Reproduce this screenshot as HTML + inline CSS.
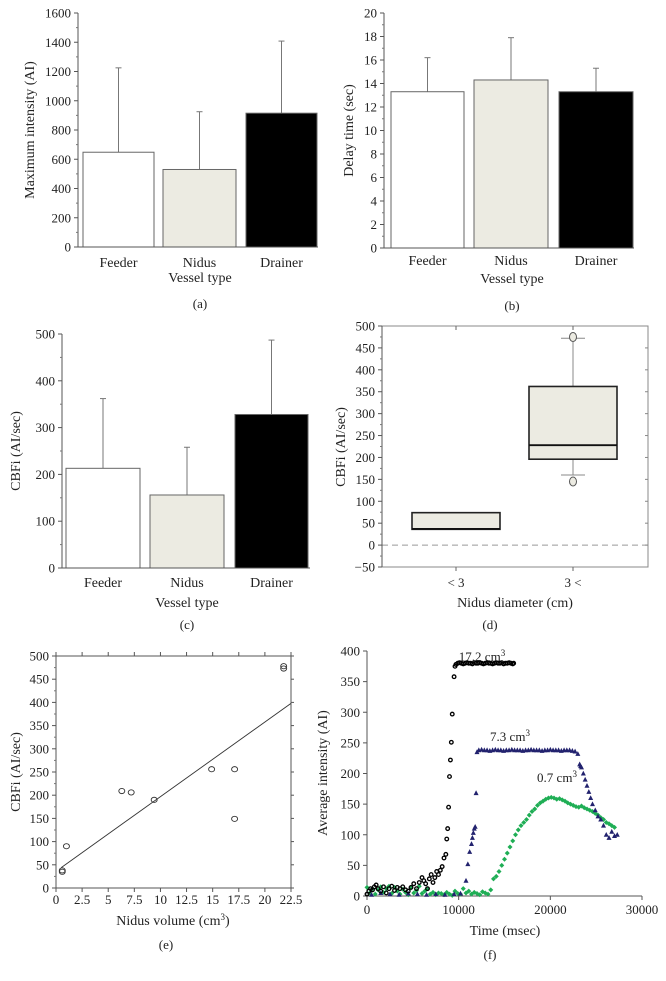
<!DOCTYPE html>
<html><head><meta charset="utf-8">
<style>
html,body{margin:0;padding:0;background:#fff;}
svg{display:block;font-family:"Liberation Serif",serif;}
text{fill:#222;}
</style></head>
<body>
<svg id="fig" width="666" height="981" viewBox="0 0 666 981" xmlns="http://www.w3.org/2000/svg"></svg>
<script>
// ---- Panel (a)
const catsA = ["Feeder","Nidus","Drainer"];
const valsA = [648,530,915];
const errA = [1225,925,1408];
const ticksA = [0,200,400,600,800,1000,1200,1400,1600];
// ---- Panel (b)
const valsB = [13.3,14.3,13.3];
const errB = [16.2,17.9,15.3];
const ticksB = [0,2,4,6,8,10,12,14,16,18,20];
// ---- Panel (c)
const valsC = [213,156,328];
const errC = [362,258,487];
const ticksC = [0,100,200,300,400,500];
// ---- Panel (d)
const catsD = ["< 3","3 <"];
const boxQ1 = [36,196];
const boxMed = [37,228];
const boxQ3 = [74,362];
const whiskLo = [null,160];
const whiskHi = [null,472];
const outliers = [[],[145,475]];
const ticksD = [-50,0,50,100,150,200,250,300,350,400,450,500];
// ---- Panel (e)
const volE = [0.6,0.6,1.0,6.3,7.2,9.4,14.9,17.1,17.1,21.8,21.8];
const cbfE = [38,35,90,209,206,190,256,256,149,478,473];
const fitX = [0.5,22.5];
const fitY = [44,398];
const ticksEx = [0,2.5,5,7.5,10,12.5,15,17.5,20,22.5];
const ticksEy = [0,50,100,150,200,250,300,350,400,450,500];
// ---- Panel (f)
const blackT = [0,200,400,600,800,1000,1200,1500,1800,2100,2400,2700,3000,3300,3600,3900,4200,4500,4800,5100,5400,5700,6000,6200,6400,6600,6800,7000,7200,7400,7600,7800,8000,8200,8400,8600,8700,8800,8900,9000,9100,9200,9300,9500,9600,9700,9900,10100,10300,10500,10700,10900,11100,11300,11500,11700,11900,12100,12300,12500,12700,12900,13100,13300,13500,13700,13900,14100,14300,14500,14700,14900,15100,15300,15500,15700,15900,16000];
const blackV = [3,8,12,10,15,18,12,8,15,5,12,16,9,14,12,15,10,8,14,20,12,22,30,25,20,12,28,35,22,30,40,35,42,48,62,68,93,110,145,195,222,251,297,358,375,378,380,381,380,379,380,381,380,380,379,381,380,380,381,380,379,380,381,380,380,379,380,381,380,380,381,379,380,380,381,380,379,380];
const blueT = [500,1500,2500,3500,4500,5500,6500,7500,8500,9500,10200,10800,11000,11200,11400,11500,11600,11700,11800,11900,12000,12200,12500,12800,13100,13400,13700,14000,14300,14600,14900,15200,15500,15800,16100,16400,16700,17000,17300,17600,17900,18200,18500,18800,19100,19400,19700,20000,20300,20600,20900,21200,21500,21800,22100,22400,22700,23000,23200,23300,23400,23600,23800,24000,24200,24400,24600,24900,25200,25500,25800,26100,26400,26700,27000,27300];
const blueV = [2,5,3,2,4,3,2,3,2,3,4,25,52,72,85,95,103,110,113,168,235,238,239,238,238,237,238,239,238,238,237,238,238,239,238,238,238,237,238,238,239,238,238,238,237,238,238,239,238,238,238,237,238,238,238,237,236,232,215,212,210,200,190,180,170,160,150,140,130,125,115,100,95,105,98,100];
const greenT = [0,300,600,900,1200,1500,1800,2100,2400,2700,3000,3300,3600,3900,4200,4500,4800,5100,5400,5700,6000,6300,6600,6900,7200,7500,7800,8100,8400,8700,9000,9300,9600,9900,10200,10500,10800,11100,11400,11700,12000,12300,12600,12900,13200,13500,13800,14100,14400,14700,15000,15300,15600,15900,16200,16500,16800,17100,17400,17700,18000,18300,18600,18900,19200,19500,19800,20100,20400,20700,21000,21300,21600,21900,22200,22500,22800,23100,23400,23700,24000,24300,24600,24900,25200,25500,25800,26100,26400,26700,27000];
const greenV = [14,5,12,3,10,15,6,12,16,4,14,8,3,11,6,2,13,5,9,16,4,8,12,3,6,2,5,4,2,6,3,1,8,4,3,12,5,8,3,6,4,2,7,5,3,10,28,32,40,50,60,70,80,90,100,108,115,120,125,132,138,142,148,152,155,158,160,161,160,158,159,157,155,152,150,148,146,145,147,144,142,140,138,135,132,128,125,120,118,115,112];
const ticksFx = [0,10000,20000,30000];
const ticksFy = [0,50,100,150,200,250,300,350,400];

const svg = document.getElementById('fig');
const NS = "http://www.w3.org/2000/svg";
function mk(tag, attrs, parent){
  const e = document.createElementNS(NS, tag);
  for (const k in attrs) e.setAttribute(k, attrs[k]);
  (parent||svg).appendChild(e);
  return e;
}
function txt(s, x, y, anchor, size, parent, rot){
  const t = mk('text', {x:x, y:y, 'text-anchor':anchor||'middle', 'font-size':size||13}, parent);
  if (rot) t.setAttribute('transform', 'rotate(-90 '+x+' '+y+')');
  t.textContent = s;
  return t;
}
function lin(d0,d1,r0,r1){ return v => r0 + (v-d0)/(d1-d0)*(r1-r0); }

function yAxis(g, x, y, ticks, fmt, minor, yTop, yBot){
  const ax = mk('line',{x1:x,y1:yTop,x2:x,y2:yBot,stroke:'#555','stroke-width':1},g);
  
  
  ticks.forEach(v=>{
    const l = mk('line',{x1:x-4,y1:y(v),x2:x,y2:y(v),stroke:'#555'},g);
    
    
    const t = txt(fmt?fmt(v):String(v), x-7, y(v)+4.5, 'end', 13, g);
    
    
  });
  if (minor){
    for (let i=0;i<ticks.length-1;i++){
      const m = (ticks[i]+ticks[i+1])/2;
      const l = mk('line',{x1:x-2,y1:y(m),x2:x,y2:y(m),stroke:'#777'},g);
      
      
    }
  }
}

function barPanel(name, x0, xEnd, yTop, yBot, ticks, vals, errs, bars, ylabel, ylabX, catY, vtY, capY, cap, fmt){
  const g = mk('g',{});
  
  
  const y = lin(ticks[0], ticks[ticks.length-1], yBot, yTop);
  const fills = ['#fff','#ecebe2','#000'];
  vals.forEach((v,i)=>{
    const [bx0,bx1] = bars[i];
    const cx = (bx0+bx1)/2;
    const e = mk('line',{x1:cx,y1:y(errs[i]),x2:cx,y2:y(v),stroke:'#777','stroke-width':1},g);
    
    
    const c = mk('line',{x1:cx-3,y1:y(errs[i]),x2:cx+3,y2:y(errs[i]),stroke:'#777'},g);
    
    
    const r = mk('rect',{x:bx0,y:y(v),width:bx1-bx0,height:y(ticks[0])-y(v),fill:fills[i],stroke:'#666','stroke-width':1},g);
    
    
    const t = txt(catsA[i], cx, catY, 'middle', 14, g);
    
    
  });
  const xl = mk('line',{x1:x0,y1:yBot,x2:xEnd,y2:yBot,stroke:'#555'},g);
  
  
  yAxis(g, x0, y, ticks, fmt, true, yTop, yBot);
  const yl = txt(ylabel, ylabX, (yTop+yBot)/2, 'middle', 14, g, true);
  
  
  const vt = txt('Vessel type', (bars[0][0]+bars[2][1])/2, vtY, 'middle', 14, g);
  
  
  const cp = txt(cap, (bars[0][0]+bars[2][1])/2, capY, 'middle', 13, g);
  
  
}

barPanel('panel-a', 78, 318, 13, 247, ticksA, valsA, errA, [[83,154],[163,236],[246,317]], 'Maximum intensity (AI)', 34, 267, 282, 308, '(a)');
barPanel('panel-b', 384, 634, 13, 248, ticksB, valsB, errB, [[391,464],[474,548],[559,633]], 'Delay time (sec)', 353, 265, 283, 310, '(b)');
barPanel('panel-c', 62, 310, 334, 568, ticksC, valsC, errC, [[66,140],[150,224],[235,308]], 'CBFi (AI/sec)', 20, 587, 607, 629, '(c)');

// ---- Panel (d)
(function(){
  const g = mk('g',{});
  
  
  const x0=382, x1=648, yT=326, yB=567;
  const y = lin(-50,500,yB,yT);
  const cx = [456,573];
  const hw = 44;
  const fr = mk('rect',{x:x0,y:yT,width:x1-x0,height:yB-yT,fill:'none',stroke:'#888'},g);
  
  
  const zl = mk('line',{x1:x0,y1:y(0),x2:x1,y2:y(0),stroke:'#999','stroke-dasharray':'6,4'},g);
  
  
  ticksD.forEach(v=>{
    const l = mk('line',{x1:x1-3,y1:y(v),x2:x1,y2:y(v),stroke:'#888'},g);
    
    
  });
  yAxis(g, x0, y, ticksD, v=>v<0?'\u2212'+(-v):String(v), true, yT, yB);
  catsD.forEach((c,i)=>{
    if (whiskHi[i]!==null){
      const w = mk('line',{x1:cx[i],y1:y(whiskHi[i]),x2:cx[i],y2:y(whiskLo[i]),stroke:'#888'},g);
      
      
      [whiskHi[i],whiskLo[i]].forEach(v=>{
        const cp = mk('line',{x1:cx[i]-12,y1:y(v),x2:cx[i]+12,y2:y(v),stroke:'#888'},g);
        
        
      });
    }
    const b = mk('rect',{x:cx[i]-hw,y:y(boxQ3[i]),width:2*hw,height:y(boxQ1[i])-y(boxQ3[i]),fill:'#ecebe2',stroke:'#222','stroke-width':1.6},g);
    
    
    const m = mk('line',{x1:cx[i]-hw,y1:y(boxMed[i]),x2:cx[i]+hw,y2:y(boxMed[i]),stroke:'#111','stroke-width':1.8},g);
    
    
    outliers[i].forEach(v=>{
      const o = mk('ellipse',{cx:cx[i],cy:y(v),rx:3.5,ry:4.5,fill:'#ecebe2',stroke:'#555'},g);
      
      
    });
    const tk = mk('line',{x1:cx[i],y1:yB,x2:cx[i],y2:yB+4,stroke:'#666'},g);
    
    
    const tt = mk('line',{x1:cx[i],y1:yT,x2:cx[i],y2:yT+4,stroke:'#666'},g);
    
    
    const t = txt(c, cx[i], 587, 'middle', 13, g);
    
    
  });
  const xt = txt('Nidus diameter (cm)', 515, 607, 'middle', 14, g);
  
  
  const yt = txt('CBFi (AI/sec)', 345, 447, 'middle', 14, g, true);
  
  
  const cp = txt('(d)', 490, 629, 'middle', 13, g);
  
  
})();

// ---- Panel (e)
(function(){
  const g = mk('g',{});
  
  
  const x0=56, x1=291, yT=656, yB=888;
  const x = lin(0,22.5,x0,x1), y = lin(0,500,yB,yT);
  const fr = mk('rect',{x:x0,y:yT,width:x1-x0,height:yB-yT,fill:'none',stroke:'#555'},g);
  
  
  yAxis(g, x0, y, ticksEy, null, true, yT, yB);
  ticksEy.forEach(v=>{
    const l = mk('line',{x1:x1,y1:y(v),x2:x1+3,y2:y(v),stroke:'#555'},g);
    
    
  });
  ticksEx.forEach(v=>{
    const l = mk('line',{x1:x(v),y1:yB,x2:x(v),y2:yB+4,stroke:'#555'},g);
    
    
    const l2 = mk('line',{x1:x(v),y1:yT,x2:x(v),y2:yT-4,stroke:'#555'},g);
    
    
    const t = txt(String(v), x(v), 904, 'middle', 13, g);
    
    
  });
  const fl = mk('line',{x1:x(fitX[0]),y1:y(fitY[0]),x2:x(fitX[1]),y2:y(fitY[1]),stroke:'#333','stroke-width':0.9},g);
  
  
  volE.forEach((v,i)=>{
    const c = mk('ellipse',{cx:x(v),cy:y(cbfE[i]),rx:3,ry:2.6,fill:'none',stroke:'#333','stroke-width':0.9},g);
    
    
  });
  const xt = mk('text',{x:173,y:925,'text-anchor':'middle','font-size':14},g);
  
  
  xt.innerHTML = 'Nidus volume (cm<tspan font-size="9" dy="-5">3</tspan><tspan dy="5">)</tspan>';
  const yt = txt('CBFi (AI/sec)', 20, 772, 'middle', 14, g, true);
  
  
  const cp = txt('(e)', 166, 949, 'middle', 13, g);
  
  
})();

// ---- Panel (f)
(function(){
  const g = mk('g',{});
  
  
  const x0=367, x1=642, yT=651, yB=896;
  const x = lin(0,30000,x0,x1), y = lin(0,400,yB,yT);
  yAxis(g, x0, y, ticksFy, null, false, yT, yB);
  const xl = mk('line',{x1:x0,y1:yB,x2:x1,y2:yB,stroke:'#555'},g);
  
  
  ticksFx.forEach(v=>{
    const l = mk('line',{x1:x(v),y1:yB,x2:x(v),y2:yB+4,stroke:'#555'},g);
    
    
    const t = txt(String(v), x(v), 914, 'middle', 13, g);
    
    
  });
  greenT.forEach((t,i)=>{
    const cx=x(t), cy=y(greenV[i]);
    const p = mk('polygon',{points:(cx)+','+(cy-2.5)+' '+(cx+2.5)+','+cy+' '+cx+','+(cy+2.5)+' '+(cx-2.5)+','+cy,fill:'#1fae55'},g);
    
    
  });
  blueT.forEach((t,i)=>{
    const cx=x(t), cy=y(blueV[i]);
    const p = mk('polygon',{points:(cx)+','+(cy-2.8)+' '+(cx+2.5)+','+(cy+2)+' '+(cx-2.5)+','+(cy+2),fill:'#22226e'},g);
    
    
  });
  blackT.forEach((t,i)=>{
    const c = mk('circle',{cx:x(t),cy:y(blackV[i]),r:1.8,fill:'none',stroke:'#000','stroke-width':1.3},g);
    
    
  });
  const labs = [['17.2 cm',482,661],['7.3 cm',510,741],['0.7 cm',557,782]];
  labs.forEach(l=>{
    const t = mk('text',{x:l[1],y:l[2],'text-anchor':'middle','font-size':13},g);
    
    
    t.innerHTML = l[0]+'<tspan font-size="9" dy="-5">3</tspan>';
  });
  const xt = txt('Time (msec)', 505, 935, 'middle', 14, g);
  
  
  const yt = txt('Average intensity (AI)', 327, 773, 'middle', 14, g, true);
  
  
  const cp = txt('(f)', 490, 959, 'middle', 13, g);
  
  
})();
</script>
</body></html>
